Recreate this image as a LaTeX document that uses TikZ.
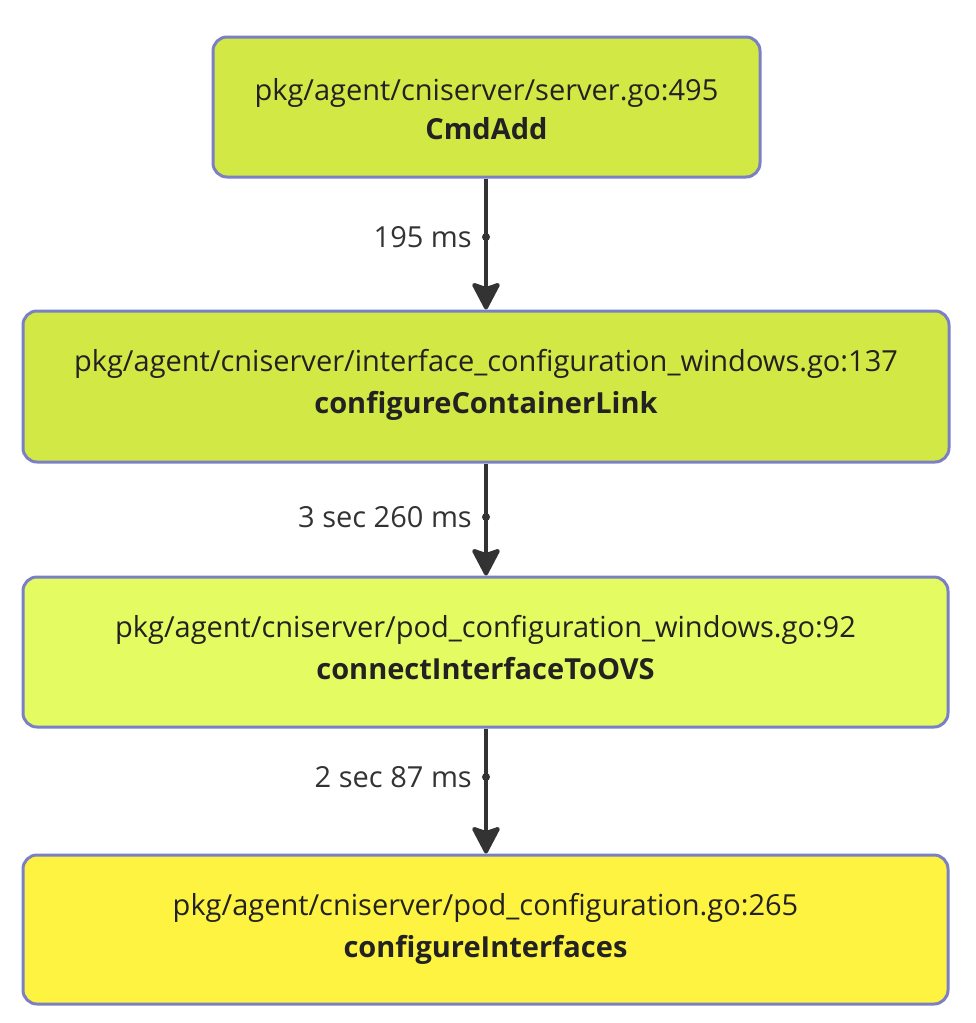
\documentclass[tikz,border=0pt]{standalone}
\usepackage{fontspec}
\setmainfont{Open Sans}
\usetikzlibrary{arrows.meta}
\definecolor{bordc}{HTML}{7B80C4}
\definecolor{fillA}{HTML}{D1E845}
\definecolor{fillB}{HTML}{E4FB61}
\definecolor{fillC}{HTML}{FFF342}
\definecolor{txt}{HTML}{222222}
\definecolor{arr}{HTML}{333333}
\begin{document}
\begin{tikzpicture}[x=1pt,y=-1pt,
  fnbox/.style={draw=bordc,line width=3pt,rounded corners=14pt,inner sep=0pt},
  pathtxt/.style={text=txt,anchor=base,inner sep=0pt,font=\fontsize{29}{36}\selectfont},
  nametxt/.style={text=txt,anchor=base,inner sep=0pt,font=\fontsize{29}{36}\selectfont\bfseries},
  conn/.style={draw=arr,line width=4pt,-{Stealth[width=31pt,length=30pt,inset=5pt,round]}},
  lbl/.style={text=arr,anchor=east,font=\fontsize{29}{34}\selectfont,inner sep=0pt,xshift=-14pt},
  dotm/.style={circle,fill=arr,inner sep=0pt,minimum size=8pt}]
\useasboundingbox (0,0) rectangle (976,1023);
\node[fnbox,fill=fillA,minimum width=547pt,minimum height=140pt] (n1) at (486.5,107) {};
\node[fnbox,fill=fillA,minimum width=926pt,minimum height=151pt] (n2) at (486,386.5) {};
\node[fnbox,fill=fillB,minimum width=925pt,minimum height=150pt] (n3) at (485.5,652) {};
\node[fnbox,fill=fillC,minimum width=925pt,minimum height=149pt] (n4) at (485.5,929.5) {};
\node[pathtxt] (p1) at ([yshift=-65pt]n1.north) {pkg/agent/cniserver/server.go:495};
\node[nametxt] (f1) at ([yshift=-104pt]n1.north) {CmdAdd};
\node[pathtxt] (p2) at ([yshift=-62pt]n2.north) {pkg/agent/cniserver/interface\_configuration\_windows.go:137};
\node[nametxt] (f2) at ([yshift=-104pt]n2.north) {configureContainerLink};
\node[pathtxt] (p3) at ([yshift=-62pt]n3.north) {pkg/agent/cniserver/pod\_configuration\_windows.go:92};
\node[nametxt] (f3) at ([yshift=-104pt]n3.north) {connectInterfaceToOVS};
\node[pathtxt] (p4) at ([yshift=-62pt]n4.north) {pkg/agent/cniserver/pod\_configuration.go:265};
\node[nametxt] (f4) at ([yshift=-104pt]n4.north) {configureInterfaces};
\coordinate (d1) at (486,237);
\coordinate (d2) at (486,517);
\coordinate (d3) at (486,777);
\draw[conn] (n1.south -| d1) -- (n2.north -| d1);
\draw[conn] (n2.south -| d2) -- (n3.north -| d2);
\draw[conn] (n3.south -| d3) -- (n4.north -| d3);
\node[dotm] (m1) at (d1) {};
\node[dotm] (m2) at (d2) {};
\node[dotm] (m3) at (d3) {};
\node[lbl] (l1) at (d1) {195 ms};
\node[lbl] (l2) at (d2) {3 sec 260 ms};
\node[lbl] (l3) at (d3) {2 sec 87 ms};
\end{tikzpicture}
\end{document}
